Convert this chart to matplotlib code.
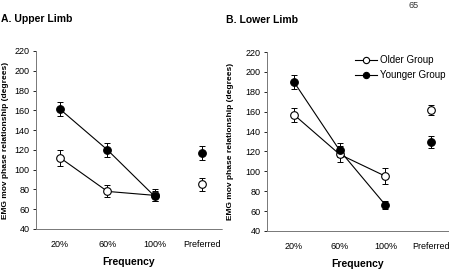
import numpy as np
import matplotlib.pyplot as plt

plt.rcParams['font.family'] = ['Liberation Sans', 'DejaVu Sans']

cats = ["20%", "60%", "100%", "Preferred"]

# upper limb
up_old = [112, 78, 74, 85]
up_old_err = [8, 6, 6, 7]
up_young = [161, 120, 73, 117]
up_young_err = [7, 7, 5, 7]

# lower limb
lo_old = [157, 117, 95, 162]
lo_old_err = [7, 8, 8, 5]
lo_young = [190, 121, 66, 129]
lo_young_err = [7, 7, 4, 6]

fig = plt.figure(figsize=(4.5, 2.71), dpi=100)
ax1 = fig.add_axes([0.08, 0.155, 0.413, 0.657])
ax2 = fig.add_axes([0.593, 0.148, 0.403, 0.66])

x = np.arange(1, 5)

def panel(ax, old, old_err, young, young_err, xlim, lab_x):
    for vals, errs, fc, lbl in [(old, old_err, 'white', 'Older Group'),
                                (young, young_err, 'black', 'Younger Group')]:
        ax.errorbar(x, vals, yerr=errs, fmt='none', ecolor='black',
                    elinewidth=0.7, capsize=2.2, capthick=0.7, zorder=2)
        ax.plot(x[:3], vals[:3], color='black', lw=0.8, zorder=2)
        ax.plot(x, vals, ls='none', marker='o', ms=5.5, mfc=fc,
                mec='black', mew=0.8, zorder=3)
        ax.plot([], [], color='black', lw=0.8, marker='o', ms=4.5,
                mfc=fc, mec='black', mew=0.8, label=lbl)
    ax.set_ylim(40, 220)
    ax.set_xlim(*xlim)
    ax.set_yticks(range(40, 221, 20))
    ax.set_xticks(x)
    ax.set_xticklabels(cats)
    ax.tick_params(axis='y', labelsize=6.5, length=2.5, width=0.6, pad=2)
    ax.tick_params(axis='x', labelsize=6.5, length=0, pad=8)
    for s in ['top', 'right']:
        ax.spines[s].set_visible(False)
    for s in ['left', 'bottom']:
        ax.spines[s].set_linestyle((0, (1, 1)))
        ax.spines[s].set_color('#777777')
        ax.spines[s].set_linewidth(0.7)
    ax.set_xlabel("Frequency", fontsize=7.5, fontweight='bold', labelpad=6)
    ax.set_ylabel("EMG mov phase relationship (degrees)", fontsize=6,
                  fontweight='bold')
    ax.yaxis.set_label_coords(lab_x, 0.5)

panel(ax1, up_old, up_old_err, up_young, up_young_err, (0.49, 4.42), -0.145)
panel(ax2, lo_old, lo_old_err, lo_young, lo_young_err, (0.41, 4.37), -0.18)

ax2.legend(loc='upper left', bbox_to_anchor=(0.44, 1.03), frameon=False,
           fontsize=7, handlelength=2.2, handletextpad=0.3,
           labelspacing=0.5)

fig.text(0.003, 0.93, "A. Upper Limb", fontsize=7.5, fontweight='bold',
         va='center', ha='left')
fig.text(0.502, 0.925, "B. Lower Limb", fontsize=7.5, fontweight='bold',
         va='center', ha='left')
fig.text(0.918, 0.978, "65", fontsize=6.5, va='center', ha='center',
         color='#333333')

fig.savefig("out.png", dpi=100)
